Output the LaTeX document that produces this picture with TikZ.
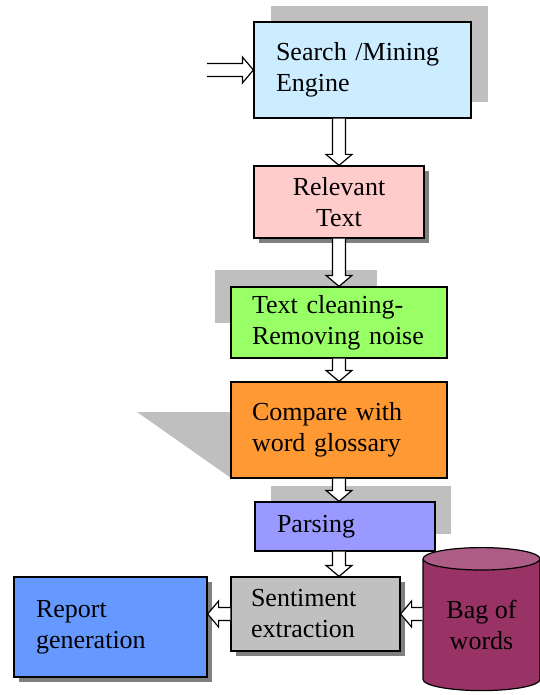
\documentclass[tikz,border=0pt]{standalone}
\usepackage{fontspec}
\setmainfont{Liberation Serif}
\usetikzlibrary{calc,shadows,shapes.geometric}
\definecolor{searchblue}{HTML}{CCECFF}
\definecolor{relpink}{HTML}{FFCCCC}
\definecolor{cleangreen}{HTML}{99FF66}
\definecolor{cmporange}{HTML}{FF9933}
\definecolor{parseblue}{HTML}{9999FF}
\definecolor{sentgray}{HTML}{C0C0C0}
\definecolor{reportblue}{HTML}{6699FF}
\definecolor{bagbody}{HTML}{993366}
\definecolor{bagtop}{HTML}{AD5C85}
\definecolor{backgray}{HTML}{BFBFBF}
\newcommand{\hollowarrow}[2]{%
\path (#1) coordinate (s) (#2) coordinate (t) ($(t)!11pt!(s)$) coordinate (h);
\draw[hollow] ($(s)!6.5pt!90:(t)$) -- ($(h)!6.5pt!90:(t)$) -- ($(h)!13pt!90:(t)$) -- (t)
  -- ($(h)!13pt!-90:(t)$) -- ($(h)!6.5pt!-90:(t)$) -- ($(s)!6.5pt!-90:(t)$);}
\begin{document}
\begin{tikzpicture}[x=1pt,y=-1pt]
\tikzstyle{box}=[draw,line width=1.2pt,rectangle,inner sep=0pt,align=left,font=\fontsize{26}{31}\selectfont]
\tikzstyle{shade}=[drop shadow={shadow xshift=5pt,shadow yshift=-5pt,fill=gray,opacity=1}]
\tikzstyle{hollow}=[draw,fill=white,line width=1.2pt,line join=miter]
\useasboundingbox (0,0) rectangle (539,695);
\fill[backgray] (271,6) rectangle (488,102);
\fill[backgray] (215,270) rectangle (377,323);
\fill[backgray] (137,412) -- (231,412) -- (231,478) -- cycle;
\fill[backgray] (271,486) rectangle (451,534);
\coordinate (spine) at (339,0);
\coordinate (in) at (207,70);
\node[box,fill=searchblue,minimum width=217,minimum height=96,text width=173] at (362.5,70) (search) {Search /Mining\\Engine};
\node[box,shade,fill=relpink,minimum width=170,minimum height=72,align=center] at (339,202) (relevant) {Relevant\\Text};
\node[box,fill=cleangreen,minimum width=216,minimum height=71,text width=174] at (339,322.5) (clean) {Text cleaning-\\Removing noise};
\node[box,fill=cmporange,minimum width=216,minimum height=96,text width=174] at (339,430) (compare) {Compare with\\word glossary};
\node[box,fill=parseblue,minimum width=180,minimum height=49,text width=136] at (345,526.5) (parse) {Parsing};
\node[box,shade,fill=sentgray,minimum width=169,minimum height=74,text width=129] at (315.5,614) (sent) {Sentiment\\extraction};
\node[box,shade,fill=reportblue,minimum width=193,minimum height=100,text width=149] at (110.5,627) (report) {Report\\generation};
\node[cylinder,shape border rotate=90,draw,line width=1.2pt,aspect=0.32,minimum width=117,minimum height=143,cylinder uses custom fill,cylinder body fill=bagbody,cylinder end fill=bagtop,inner sep=0pt,align=center,font=\fontsize{26}{31}\selectfont] at (481.5,625) (bag) {Bag of\\words};
\hollowarrow{in}{search.west}
\hollowarrow{search.south -| spine}{relevant.north -| spine}
\hollowarrow{relevant.south -| spine}{clean.north -| spine}
\hollowarrow{clean.south -| spine}{compare.north -| spine}
\hollowarrow{compare.south -| spine}{parse.north -| spine}
\hollowarrow{parse.south -| spine}{sent.north -| spine}
\hollowarrow{sent.west}{sent.west -| report.east}
\hollowarrow{sent.east -| bag.west}{sent.east}
\end{tikzpicture}
\end{document}
